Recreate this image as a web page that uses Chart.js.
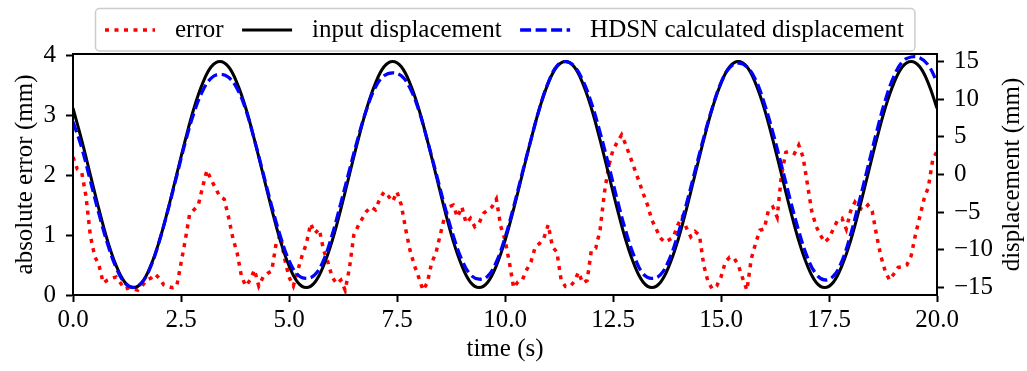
<!DOCTYPE html>
<html><head><meta charset="utf-8">
<script src="https://cdn.jsdelivr.net/npm/chart.js@4.4.1/dist/chart.umd.min.js"></script>
<style>html,body{margin:0;padding:0;background:#fff;}#wrap{width:1027px;height:371px;position:relative;}</style>
</head><body><div id="wrap"><canvas id="c"></canvas></div>
<script>
// ---- data ----
const errorTime = [
0,0.1,0.2,0.3,0.4,0.5,0.6,0.7,0.8,0.9,
1,1.1,1.2,1.3,1.4,1.5,1.6,1.7,1.8,1.9,
2,2.1,2.2,2.3,2.4,2.5,2.6,2.7,2.8,2.9,
3,3.1,3.2,3.3,3.4,3.5,3.6,3.7,3.8,3.9,
4,4.1,4.2,4.3,4.4,4.5,4.6,4.7,4.8,4.9,
5,5.1,5.2,5.3,5.4,5.5,5.6,5.7,5.8,5.9,
6,6.1,6.2,6.3,6.4,6.5,6.6,6.7,6.8,6.9,
7,7.1,7.2,7.3,7.4,7.5,7.6,7.7,7.8,7.9,
8,8.1,8.2,8.3,8.4,8.5,8.6,8.7,8.8,8.9,
9,9.1,9.2,9.3,9.4,9.5,9.6,9.7,9.8,9.9,
10,10.1,10.2,10.3,10.4,10.5,10.6,10.7,10.8,10.9,
11,11.1,11.2,11.3,11.4,11.5,11.6,11.7,11.8,11.9,
12,12.1,12.2,12.3,12.4,12.5,12.6,12.7,12.8,12.9,
13,13.1,13.2,13.3,13.4,13.5,13.6,13.7,13.8,13.9,
14,14.1,14.2,14.3,14.4,14.5,14.6,14.7,14.8,14.9,
15,15.1,15.2,15.3,15.4,15.5,15.6,15.7,15.8,15.9,
16,16.1,16.2,16.3,16.4,16.5,16.6,16.7,16.8,16.9,
17,17.1,17.2,17.3,17.4,17.5,17.6,17.7,17.8,17.9,
18,18.1,18.2,18.3,18.4,18.5,18.6,18.7,18.8,18.9,
19,19.1,19.2,19.3,19.4,19.5,19.6,19.7,19.8,19.9,
20];
const errorValue = [
2.3,2.1,2.05,1.65,1.0,0.65,0.5,0.2,0.25,0.28,
0.3,0.2,0.1,0.12,0.1,0.08,0.15,0.25,0.28,0.35,
0.28,0.17,0.14,0.12,0.14,0.53,0.92,1.35,1.42,1.5,
1.8,2.08,1.92,1.78,1.64,1.6,1.3,0.95,0.7,0.31,
0.15,0.25,0.42,0.15,0.3,0.36,0.4,0.85,1.0,0.6,
0.3,0.15,0.4,0.65,0.85,1.19,1.03,1.1,0.75,0.55,
0.3,0.19,0.25,0.08,0.45,1.0,1.15,1.28,1.4,1.47,
1.42,1.6,1.72,1.65,1.56,1.72,1.5,1.1,0.75,0.5,
0.3,0.08,0.2,0.53,0.7,1.0,1.3,1.47,1.5,1.3,
1.47,1.2,1.28,1.14,1.2,1.36,1.42,1.47,1.6,1.15,
0.92,0.55,0.12,0.22,0.25,0.42,0.55,0.8,0.86,0.95,
1.17,0.8,0.72,0.25,0.14,0.14,0.22,0.38,0.2,0.24,
0.75,0.78,1.08,1.7,2.15,2.42,2.55,2.67,2.5,2.3,
2.1,1.9,1.69,1.5,1.25,1.1,0.95,0.88,0.92,0.97,
1.17,1.3,1.12,0.97,1.06,1.0,0.5,0.22,0.1,0.15,
0.3,0.55,0.63,0.62,0.5,0.28,0.08,0.6,0.86,1.08,
1.1,1.42,1.47,1.3,2.0,2.38,2.4,2.36,2.5,2.3,
1.85,1.4,1.15,1.0,0.88,0.95,1.1,1.25,1.28,1.1,
1.4,1.55,1.45,1.42,1.5,1.4,1.0,0.65,0.4,0.25,
0.35,0.46,0.47,0.5,0.65,1.0,1.3,1.6,1.8,2.25,
2.4];
const dispTime = [
0,0.2,0.4,0.6,0.8,1,1.2,1.4,1.6,1.8,
2,2.2,2.4,2.6,2.8,3,3.2,3.4,3.6,3.8,
4,4.2,4.4,4.6,4.8,5,5.2,5.4,5.6,5.8,
6,6.2,6.4,6.6,6.8,7,7.2,7.4,7.6,7.8,
8,8.2,8.4,8.6,8.8,9,9.2,9.4,9.6,9.8,
10,10.2,10.4,10.6,10.8,11,11.2,11.4,11.6,11.8,
12,12.2,12.4,12.6,12.8,13,13.2,13.4,13.6,13.8,
14,14.2,14.4,14.6,14.8,15,15.2,15.4,15.6,15.8,
16,16.2,16.4,16.6,16.8,17,17.2,17.4,17.6,17.8,
18,18.2,18.4,18.6,18.8,19,19.2,19.4,19.6,19.8,
20];
const inputDisp = [
8.8,4.6,0.0,-4.6,-8.8,-12.1,-14.3,-15.0,-14.3,-12.1,
-8.8,-4.6,0.0,4.6,8.8,12.1,14.3,15.0,14.3,12.1,
8.8,4.6,0.0,-4.6,-8.8,-12.1,-14.3,-15.0,-14.3,-12.1,
-8.8,-4.6,0.0,4.6,8.8,12.1,14.3,15.0,14.3,12.1,
8.8,4.6,0.0,-4.6,-8.8,-12.1,-14.3,-15.0,-14.3,-12.1,
-8.8,-4.6,0.0,4.6,8.8,12.1,14.3,15.0,14.3,12.1,
8.8,4.6,0.0,-4.6,-8.8,-12.1,-14.3,-15.0,-14.3,-12.1,
-8.8,-4.6,0.0,4.6,8.8,12.1,14.3,15.0,14.3,12.1,
8.8,4.6,0.0,-4.6,-8.8,-12.1,-14.3,-15.0,-14.3,-12.1,
-8.8,-4.6,0.0,4.6,8.8,12.1,14.3,15.0,14.3,12.1,
8.8];
const hdsnDisp = [
7.0,3.6,-0.8,-5.2,-9.2,-12.4,-14.4,-15.0,-14.3,-12.2,
-8.8,-4.7,-0.2,4.3,8.2,11.1,12.8,13.3,12.9,11.4,
8.6,4.6,0.2,-4.2,-8.2,-11.4,-13.3,-13.8,-13.3,-11.4,
-8.0,-3.8,0.6,4.9,8.7,11.6,13.1,13.5,13.1,11.5,
8.6,4.6,0.3,-4.1,-8.1,-11.3,-13.3,-13.9,-13.5,-11.6,
-8.4,-4.3,0.2,4.6,8.8,12.2,14.4,15.0,14.4,12.5,
9.5,5.6,1.2,-3.4,-7.6,-11.0,-13.2,-13.8,-13.3,-11.3,
-8.0,-3.9,0.5,4.9,8.9,12.2,14.2,14.8,14.3,12.6,
9.5,5.6,1.2,-3.3,-7.5,-11.0,-13.2,-14.0,-13.5,-11.5,
-8.0,-3.6,1.0,5.6,9.8,13.0,15.0,15.6,15.5,14.5,
12.3];
const xTicks = [0, 2.5, 5, 7.5, 10, 12.5, 15, 17.5, 20];
const leftTicks = [0, 1, 2, 3, 4];
const rightTicks = [-15, -10, -5, 0, 5, 10, 15];
const seriesLabels = ['error', 'input displacement', 'HDSN calculated displacement'];
const xTitle = 'time (s)';
const leftTitle = 'absolute error (mm)';
const rightTitle = 'displacement (mm)';

// ---- rendering ----
const FONT = "'Liberation Serif', 'Times New Roman', serif";
Chart.defaults.font.family = FONT;
Chart.defaults.font.size = 25;
Chart.defaults.color = '#000';

const pts = (xs, ys) => xs.map((x, i) => ({x: x, y: ys[i]}));
const gridOpts = {drawOnChartArea: false, drawTicks: true, tickLength: 7, tickWidth: 2, tickColor: '#000'};
const borderOpts = {display: true, color: '#000', width: 2};

const framePlugin = {
  id: 'frame',
  afterDatasetsDraw(chart) {
    const {ctx, chartArea: a} = chart;
    ctx.save();
    ctx.strokeStyle = '#000';
    ctx.lineWidth = 2;
    ctx.strokeRect(a.left, a.top, a.right - a.left, a.bottom - a.top);
    ctx.restore();
  }
};

const extrasPlugin = {
  id: 'extras',
  afterDraw(chart) {
    const {ctx, chartArea: a} = chart;
    ctx.save();
    // right axis title, reading bottom-to-top
    ctx.font = '25px ' + FONT;
    ctx.fillStyle = '#000';
    ctx.translate(chart.width - 15, (a.top + a.bottom) / 2);
    ctx.rotate(-Math.PI / 2);
    ctx.textAlign = 'center';
    ctx.textBaseline = 'middle';
    ctx.fillText(rightTitle, 0, 0);
    ctx.restore();

    // boxed legend
    ctx.save();
    ctx.font = '25px ' + FONT;
    const ds = chart.data.datasets;
    const widths = ds.map(d => ctx.measureText(d.label).width);
    const startX = 105, cy = 30, handle = 50, pad = 20, colSp = 18.5;
    let total = 0;
    widths.forEach((w, i) => { total += handle + pad + w + (i < widths.length - 1 ? colSp : 0); });
    const bx = 95.5, by = 8.5, bw = (startX - bx) + total + 11, bh = 42.5;
    ctx.beginPath();
    ctx.roundRect(bx, by, bw, bh, 4);
    ctx.fillStyle = 'rgba(255,255,255,0.85)';
    ctx.fill();
    ctx.strokeStyle = '#cccccc';
    ctx.lineWidth = 1.5;
    ctx.stroke();
    let x = startX;
    ds.forEach((d, i) => {
      ctx.save();
      ctx.beginPath();
      ctx.strokeStyle = d.borderColor;
      ctx.lineWidth = d.borderWidth;
      ctx.lineCap = 'butt';
      ctx.setLineDash(d.borderDash || []);
      ctx.moveTo(x, cy);
      ctx.lineTo(x + handle, cy);
      ctx.stroke();
      ctx.restore();
      ctx.fillStyle = '#000';
      ctx.textAlign = 'left';
      ctx.textBaseline = 'middle';
      ctx.fillText(d.label, x + handle + pad, cy);
      x += handle + pad + widths[i] + colSp;
    });
    ctx.restore();
  }
};

new Chart(document.getElementById('c'), {
  type: 'line',
  data: {
    datasets: [
      {label: seriesLabels[0], data: pts(errorTime, errorValue), yAxisID: 'yL',
       borderColor: '#ff0000', borderWidth: 3.5, borderDash: [4, 5.5], borderCapStyle: 'butt',
       pointRadius: 0, tension: 0, fill: false, order: 3},
      {label: seriesLabels[1], data: pts(dispTime, inputDisp), yAxisID: 'yR',
       borderColor: '#000000', borderWidth: 3, pointRadius: 0, tension: 0.4, fill: false, order: 2},
      {label: seriesLabels[2], data: pts(dispTime, hdsnDisp), yAxisID: 'yR',
       borderColor: '#0000ff', borderWidth: 3.3, borderDash: [11, 4.5], borderCapStyle: 'butt',
       pointRadius: 0, tension: 0.4, fill: false, order: 1}
    ]
  },
  options: {
    responsive: true,
    maintainAspectRatio: false,
    animation: false,
    devicePixelRatio: 1,
    layout: {padding: {top: 54, left: 0, right: 0, bottom: 0}, autoPadding: false},
    plugins: {legend: {display: false}, tooltip: {enabled: false}},
    scales: {
      x: {
        type: 'linear', position: 'bottom', min: 0, max: 20,
        afterBuildTicks: s => { s.ticks = xTicks.map(v => ({value: v})); },
        ticks: {callback: v => Number(v).toFixed(1), padding: 3, autoSkip: false, maxRotation: 0, color: '#000'},
        grid: gridOpts, border: borderOpts,
        title: {display: true, text: xTitle, color: '#000', padding: {top: 0, bottom: 7}},
        afterFit: s => { s.height = 76; }
      },
      yL: {
        type: 'linear', position: 'left', min: 0, max: 4.02,
        afterBuildTicks: s => { s.ticks = leftTicks.map(v => ({value: v})); },
        ticks: {callback: v => String(v), padding: 10, color: '#000'},
        grid: gridOpts, border: borderOpts,
        title: {display: true, text: leftTitle, color: '#000', padding: {top: 10, bottom: 0}},
        afterFit: s => { s.width = 73; }
      },
      yR: {
        type: 'linear', position: 'right', min: -16, max: 16,
        afterBuildTicks: s => { s.ticks = rightTicks.map(v => ({value: v})); },
        ticks: {callback: v => (v < 0 ? '\u2212' + Math.abs(v) : String(v)), padding: 10, color: '#000'},
        grid: gridOpts, border: borderOpts,
        title: {display: false},
        afterFit: s => { s.width = 90; }
      }
    }
  },
  plugins: [framePlugin, extrasPlugin]
});
</script></body></html>
